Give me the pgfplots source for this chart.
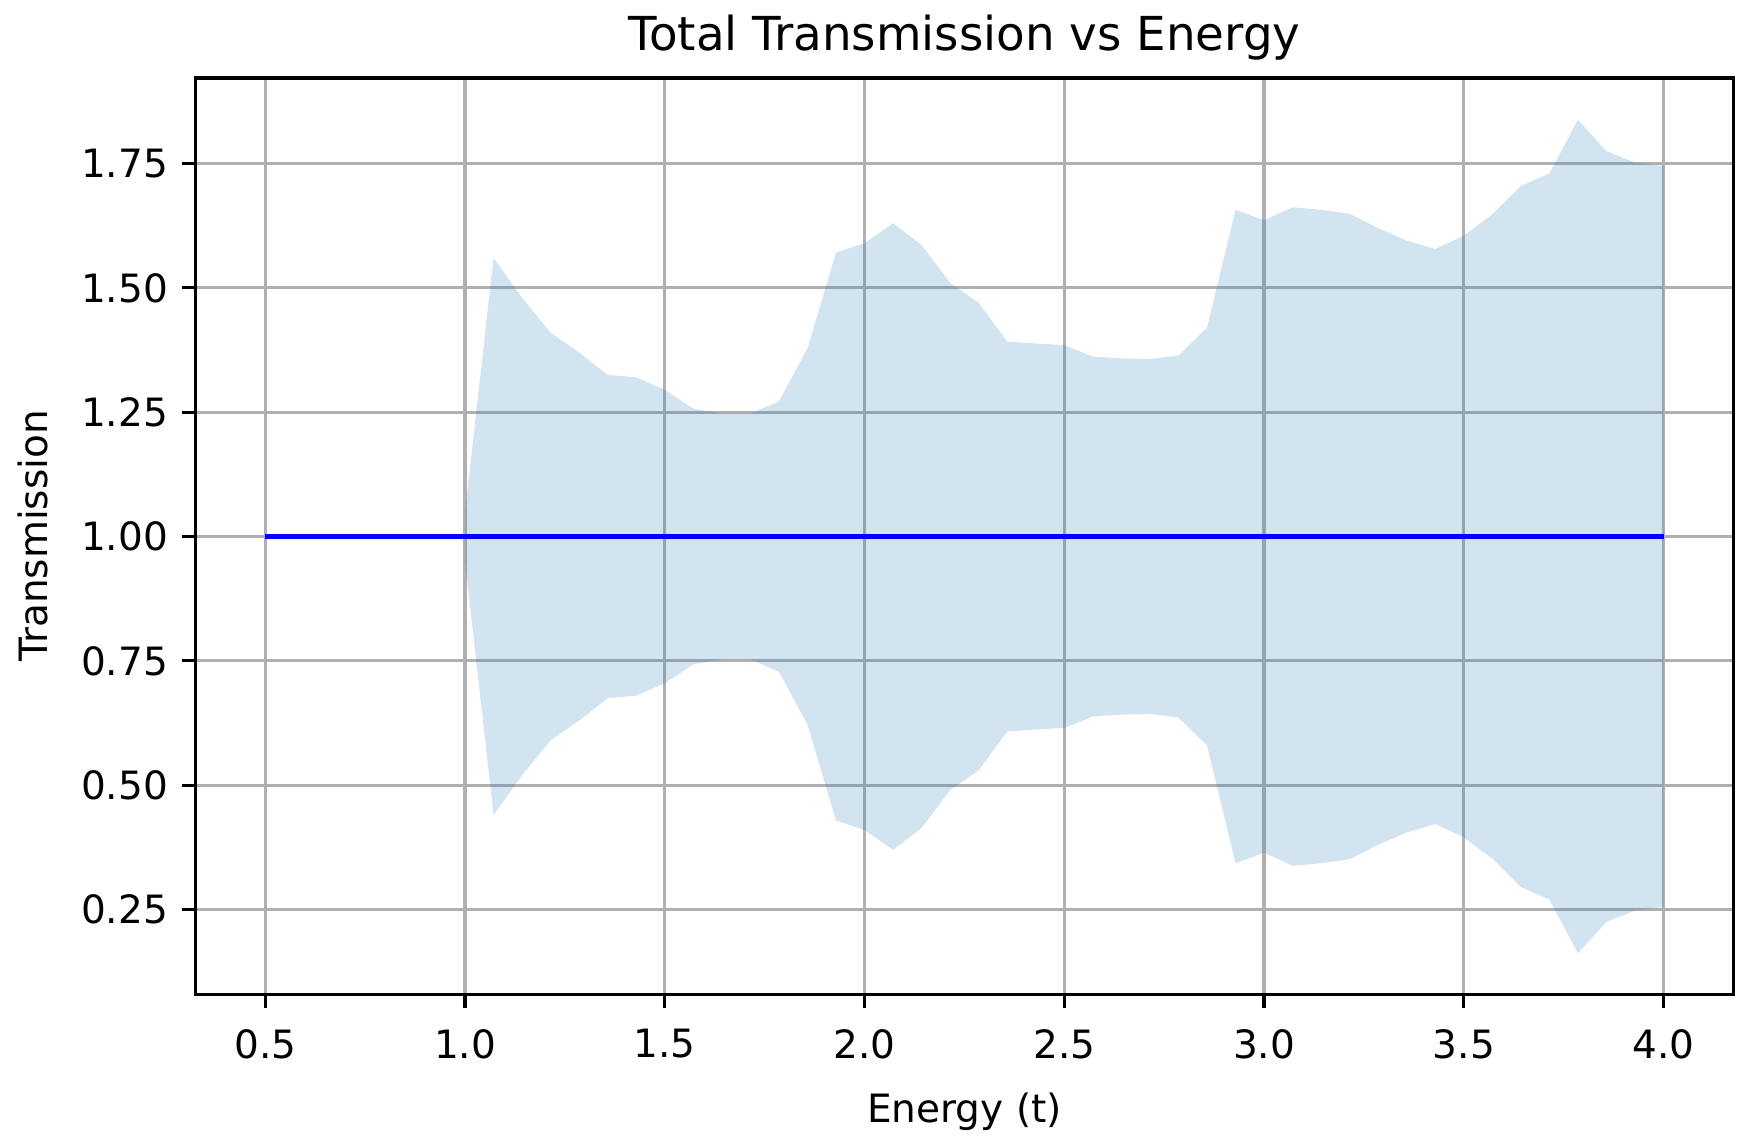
\documentclass[border=0pt]{standalone}
\usepackage{fontspec}
\setmainfont{DejaVu Sans}
\usepackage{pgfplots}
\pgfplotsset{compat=1.18}
\usepackage{pgfplotstable}
\usepgfplotslibrary{fillbetween}

\definecolor{mplblue}{HTML}{1F77B4}
\definecolor{mplgrid}{HTML}{B0B0B0}

% mean +- spread of the total transmission
\pgfplotstableread{
x      lo     hi
1.0000 0.950 1.050
1.0714 0.440 1.560
1.1429 0.520 1.480
1.2143 0.590 1.410
1.2857 0.630 1.370
1.3571 0.675 1.325
1.4286 0.680 1.320
1.5000 0.705 1.295
1.5714 0.743 1.257
1.6429 0.753 1.247
1.7143 0.753 1.247
1.7857 0.728 1.272
1.8571 0.622 1.378
1.9286 0.429 1.571
2.0000 0.410 1.590
2.0714 0.370 1.630
2.1429 0.414 1.586
2.2143 0.490 1.510
2.2857 0.530 1.470
2.3571 0.608 1.392
2.4286 0.612 1.388
2.5000 0.615 1.385
2.5714 0.638 1.362
2.6429 0.642 1.358
2.7143 0.643 1.357
2.7857 0.636 1.364
2.8571 0.580 1.420
2.9286 0.343 1.657
3.0000 0.364 1.636
3.0714 0.338 1.662
3.1429 0.343 1.657
3.2143 0.351 1.649
3.2857 0.380 1.620
3.3571 0.405 1.595
3.4286 0.422 1.578
3.5000 0.395 1.605
3.5714 0.352 1.648
3.6429 0.295 1.705
3.7143 0.270 1.730
3.7857 0.162 1.838
3.8571 0.225 1.775
3.9286 0.248 1.752
4.0000 0.255 1.745
}\band

\begin{document}
\begin{tikzpicture}
\begin{axis}[
  scale only axis,
  width=394.4pt, height=234.9pt,
  xmin=0.325, xmax=4.175,
  ymin=0.08, ymax=1.922,
  xtick={0.5,1.0,...,4.0},
  ytick={0.25,0.5,0.75,1.0,1.25,1.5,1.75},
  xticklabel style={yshift=-2pt, /pgf/number format/.cd, fixed, fixed zerofill, precision=1},
  yticklabel style={/pgf/number format/.cd, fixed, fixed zerofill, precision=2},
  /pgf/number format/assume math mode=true,
  ticklabel style={font=\fontsize{10}{12}\selectfont},
  tick align=outside,
  tick pos=left,
  major tick length=3.5pt,
  tick style={black, line width=0.8pt},
  axis line style={black, line width=0.8pt},
  grid=major,
  grid style={mplgrid, line width=0.8pt},
  title={Total Transmission vs Energy},
  title style={font=\fontsize{12}{14}\selectfont, at={(0.5,1)}, anchor=south, yshift=-5pt},
  xlabel={Energy (t)},
  ylabel={Transmission},
  label style={font=\fontsize{10}{12}\selectfont},
  xlabel style={yshift=-2pt},
  ylabel style={yshift=1.5pt},
]
\addplot[draw=none, name path=hi, forget plot] table[x=x, y=hi] {\band};
\addplot[draw=none, name path=lo, forget plot] table[x=x, y=lo] {\band};
\addplot[fill=mplblue, fill opacity=0.2, draw=none] fill between[of=hi and lo];

\addplot[blue, line width=1.5pt] coordinates {(0.5,1.0) (4.0,1.0)};
\end{axis}
\pgfresetboundingbox
\path[use as bounding box] ([xshift=-50.1pt,yshift=-36.9pt]current axis.south west)
  rectangle ([xshift=4.5pt,yshift=20pt]current axis.north east);
\end{tikzpicture}
\end{document}
